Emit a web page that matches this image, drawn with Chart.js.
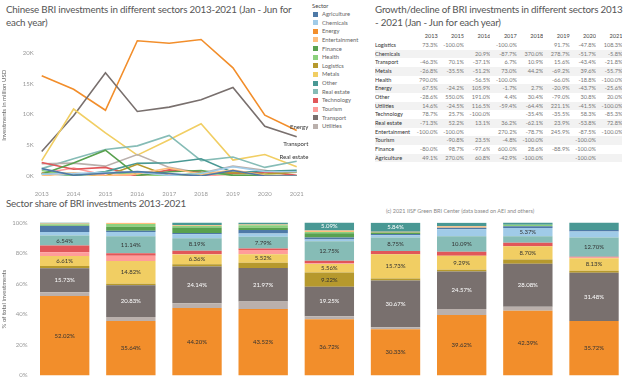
<!DOCTYPE html>
<html>
<head>
<meta charset="utf-8">
<script src="https://cdn.jsdelivr.net/npm/chart.js@4.4.1/dist/chart.umd.min.js"></script>
<style>
  body { margin: 0; background: #fff; font-family: Lato, sans-serif; }
  #page { position: relative; width: 628px; height: 387px; overflow: hidden; }
  .title { position: absolute; color: #555; font-size: 9.8px; letter-spacing: -0.2px; line-height: 12.5px; }
  #t1 { left: 6px; top: 3px; width: 292px; }
  #t2 { left: 375px; top: 3px; width: 252px; }
  #t3 { left: 6px; top: 197px; }
  #copy { position: absolute; left: 386px; top: 208px; font-size: 5.5px; color: #888; }
  #legend { position: absolute; left: 312px; top: 1px; font-size: 5.8px; color: #666; }
  #legend .head { color: #444; height: 9px; line-height: 9px; }
  #legend .item { height: 8.65px; line-height: 8.65px; white-space: nowrap; }
  #legend .sw { display: inline-block; width: 5px; height: 5px; margin: 0 4px 0 1px; vertical-align: -0.5px; }
  #growth { position: absolute; left: 375px; top: 32.4px; border-collapse: collapse; table-layout: fixed; font-size: 5.6px; }
  #growth td, #growth th { padding: 0; height: 8.67px; line-height: 8.67px; text-align: right; white-space: nowrap; overflow: hidden; }
  #growth th { color: #444; font-weight: normal; }
  #growth td { color: #777; }
  #growth td.lab { text-align: left; color: #333; }
  #growth tr.stripe td { background: #f2f2f2; }
  canvas { position: absolute; }
  #lineChart { left: 0; top: 22.6px; }
  #barChart { left: 0; top: 215px; }
</style>
</head>
<body>
<div id="page">
  <div class="title" id="t1">Chinese BRI investments in different sectors 2013-2021 (Jan - Jun for each year)</div>
  <div id="legend"></div>
  <div class="title" id="t2">Growth/decline of BRI investments in different sectors 2013 - 2021 (Jan - Jun for each year)</div>
  <table id="growth"></table>
  <div class="title" id="t3">Sector share of BRI investments 2013-2021</div>
  <div id="copy">(c) 2021 IISF Green BRI Center (data based on AEI and others)</div>
  <canvas id="lineChart" width="310" height="173" style="width:310px;height:173px"></canvas>
  <canvas id="barChart" width="628" height="172" style="width:628px;height:172px"></canvas>
</div>
<script>
// categories
const years = ['2013', '2014', '2015', '2016', '2017', '2018', '2019', '2020', '2021'];
const sectors = ['Agriculture', 'Chemicals', 'Energy', 'Entertainment', 'Finance', 'Health', 'Logistics',
  'Metals', 'Other', 'Real estate', 'Technology', 'Tourism', 'Transport', 'Utilities'];
const sectorColors = ['#4e79a7', '#a0cbe8', '#f28e2b', '#ffbe7d', '#59a14f', '#8cd17d', '#b6992d',
  '#f1ce63', '#499894', '#86bcb6', '#e15759', '#ff9d9a', '#79706e', '#bab0ac'];

// investments in million USD (Jan - Jun), 2013..2021
const invAgriculture = [1200, 120, 440, 710, 410, 0, 900, 0, 0];
const invChemicals = [300, 400, 560, 670, 80, 400, 1500, 720, 680];
const invEnergy = [16300, 14100, 10700, 22000, 21600, 22200, 17600, 9900, 7400];
const invEntertainment = [0, 500, 0, 350, 1300, 280, 960, 120, 0];
const invFinance = [300, 2100, 4200, 100, 700, 900, 100, 0, 0];
const invHealth = [900, 0, 600, 260, 0, 500, 170, 140, 0];
const invLogistics = [500, 400, 0, 1900, 0, 300, 580, 300, 630];
const invMetals = [2500, 10900, 7000, 3400, 5900, 8500, 2600, 3500, 1500];
const invOther = [400, 110, 710, 2060, 2150, 2800, 590, 770, 920];
const invRealEstate = [1200, 2800, 4300, 4900, 6600, 2500, 3100, 1400, 2400];
const invTechnology = [2200, 1100, 1400, 0, 1000, 650, 420, 660, 100];
const invTourism = [400, 1300, 120, 150, 140, 0, 300, 0, 0];
const invTransport = [4000, 9800, 16800, 10500, 11200, 12400, 14400, 8100, 6400];
const invUtilities = [2000, 2100, 1600, 3500, 1400, 500, 1600, 940, 0];
const lineTicks = [0, 5000, 10000, 15000, 20000];
const endLabelSectors = ['Energy', 'Transport', 'Real estate'];

// share of total (%), 2013..2021
const shareEnergy = [52.02, 35.64, 44.2, 43.52, 36.72, 30.33, 39.62, 42.39, 35.72];
const shareUtilities = [2.4, 2.6, 3.0, 4.8, 2.1, 1.2, 3.9, 2.6, 0];
const shareTransport = [15.73, 20.83, 24.14, 21.97, 19.25, 30.67, 24.57, 28.08, 31.48];
const shareLogistics = [1.4, 1.0, 1.4, 3.5, 9.22, 1.3, 1.0, 2.8, 1.3];
const shareMetals = [6.61, 14.82, 6.36, 5.52, 5.56, 15.73, 9.29, 8.7, 8.13];
const shareTourism = [2.4, 3.4, 0.3, 2.8, 0.6, 0, 0, 0, 0.5];
const shareTechnology = [4.4, 1.6, 2.2, 0.9, 1.6, 2.2, 2.6, 2.2, 0.5];
const shareRealEstate = [6.54, 11.14, 8.19, 7.79, 12.75, 8.75, 10.09, 4.3, 12.7];
const shareChemicals = [2.3, 2.8, 2.6, 2.0, 1.2, 1.6, 4.6, 5.37, 3.9];
const shareAgriculture = [4.0, 0.9, 0.8, 2.4, 1.3, 0.8, 1.0, 1.2, 1.0];
const shareFinance = [0.3, 2.6, 3.6, 1.5, 2.8, 0.9, 0, 0, 0];
const shareHealth = [0.8, 1.8, 1.0, 1.5, 0.8, 0, 0, 0.9, 0];
const shareEntertainment = [0.5, 0.8, 0.4, 0.6, 1.0, 0.6, 1.0, 0, 0];
const shareOther = [0.6, 0, 1.8, 1.2, 5.09, 5.84, 2.2, 1.5, 4.9];
const shareTicks = [0, 20, 40, 60, 80, 100];

// growth table
const growthYears = ['2013', '2015', '2016', '2017', '2018', '2019', '2020', '2021'];
const growthRows = ['Logistics', 'Chemicals', 'Transport', 'Metals', 'Health', 'Energy', 'Other',
  'Utilities', 'Technology', 'Real estate', 'Entertainment', 'Tourism', 'Finance', 'Agriculture'];
const growthValues = [
  ['73.3%', '-100.0%', '', '-100.0%', '', '91.7%', '-47.8%', '108.3%'],
  ['', '', '20.9%', '-87.7%', '370.0%', '278.7%', '-51.7%', '-5.8%'],
  ['-46.3%', '70.1%', '-37.1%', '6.7%', '10.9%', '15.6%', '-43.4%', '-21.8%'],
  ['-26.8%', '-35.5%', '-51.2%', '73.0%', '44.2%', '-69.2%', '39.6%', '-55.7%'],
  ['790.0%', '', '-56.5%', '-100.0%', '', '-66.0%', '-18.8%', '-100.0%'],
  ['67.5%', '-24.2%', '105.9%', '-1.7%', '2.7%', '-20.9%', '-43.7%', '-25.6%'],
  ['-28.6%', '550.0%', '191.0%', '4.4%', '30.4%', '-79.0%', '30.8%', '20.0%'],
  ['14.6%', '-24.5%', '116.5%', '-59.4%', '-64.4%', '221.1%', '-41.5%', '-100.0%'],
  ['78.7%', '25.7%', '-100.0%', '', '-35.4%', '-35.5%', '58.3%', '-85.3%'],
  ['-71.3%', '52.2%', '13.1%', '36.2%', '-62.1%', '23.9%', '-53.8%', '72.8%'],
  ['-100.0%', '-100.0%', '', '270.2%', '-78.7%', '245.9%', '-87.5%', '-100.0%'],
  ['', '-90.8%', '23.5%', '-4.8%', '-100.0%', '', '-100.0%', ''],
  ['-80.0%', '98.7%', '-97.6%', '600.0%', '28.6%', '-88.9%', '-100.0%', ''],
  ['49.1%', '270.0%', '60.8%', '-42.9%', '-100.0%', '', '-100.0%', '']
];

const FONT = 'Lato, sans-serif';

function colorOf(name) {
  return sectorColors[sectors.indexOf(name)];
}

function renderLegend() {
  const items = sectors.map((s, i) =>
    `<div class="item"><span class="sw" style="background:${sectorColors[i]}"></span>${s}</div>`
  ).join('');
  document.getElementById('legend').innerHTML = `<div class="head">Sector</div>${items}`;
}

function renderTable() {
  const cols = `<col style="width:36.3px">` + growthYears.map(() => '<col style="width:26.4px">').join('');
  const head = `<tr><th></th>${growthYears.map(y => `<th>${y}</th>`).join('')}</tr>`;
  const rows = growthRows.map((name, i) => {
    const cells = growthValues[i].map(v => `<td>${v}</td>`).join('');
    return `<tr class="${i % 2 ? 'stripe' : ''}"><td class="lab">${name}</td>${cells}</tr>`;
  }).join('');
  document.getElementById('growth').innerHTML = `<colgroup>${cols}</colgroup>${head}${rows}`;
}

// labels next to the last point of a few lines
const endLabels = {
  id: 'endLabels',
  afterDatasetsDraw(chart) {
    const ctx = chart.ctx;
    const offsets = { 'Energy': -3, 'Transport': 7.5, 'Real estate': -4.5 };
    ctx.save();
    ctx.font = `6px ${FONT}`;
    ctx.fillStyle = '#333';
    ctx.textAlign = 'right';
    ctx.textBaseline = 'middle';
    chart.data.datasets.forEach((ds, i) => {
      if (!endLabelSectors.includes(ds.label)) return;
      const pts = chart.getDatasetMeta(i).data;
      const last = pts[pts.length - 1];
      ctx.fillText(ds.label, last.x + 11.6, last.y + offsets[ds.label]);
    });
    ctx.restore();
  }
};

// percentage text inside the bigger segments
const segmentLabels = {
  id: 'segmentLabels',
  afterDatasetsDraw(chart) {
    const ctx = chart.ctx;
    ctx.save();
    ctx.font = `6px ${FONT}`;
    ctx.textAlign = 'center';
    ctx.textBaseline = 'middle';
    chart.data.datasets.forEach((ds, i) => {
      const meta = chart.getDatasetMeta(i);
      meta.data.forEach((bar, j) => {
        const v = ds.data[j];
        if (v < 5) return;
        ctx.fillStyle = (ds.label === 'Transport' || ds.label === 'Other') ? '#fff' : '#333';
        ctx.fillText(v.toFixed(2) + '%', bar.x, (bar.y + bar.base) / 2);
      });
    });
    ctx.restore();
  }
};

function buildLineChart() {
  const series = [
    ['Agriculture', invAgriculture], ['Chemicals', invChemicals], ['Entertainment', invEntertainment],
    ['Finance', invFinance], ['Health', invHealth], ['Logistics', invLogistics], ['Other', invOther],
    ['Technology', invTechnology], ['Tourism', invTourism], ['Utilities', invUtilities],
    ['Real estate', invRealEstate], ['Metals', invMetals], ['Transport', invTransport], ['Energy', invEnergy]
  ];
  new Chart(document.getElementById('lineChart'), {
    type: 'line',
    data: {
      labels: years,
      datasets: series.map(([name, data]) => ({
        label: name,
        data,
        borderColor: colorOf(name),
        backgroundColor: colorOf(name),
        borderWidth: 1.6,
        pointRadius: 0,
        tension: 0,
        fill: false
      }))
    },
    options: {
      responsive: false,
      animation: false,
      layout: { padding: { top: 4.2, right: 13.3, left: 0, bottom: 0 } },
      plugins: { legend: { display: false }, tooltip: { enabled: false } },
      scales: {
        x: {
          offset: false,
          grid: { display: false },
          border: { display: false },
          ticks: { color: '#999', font: { family: FONT, size: 6 }, padding: 6, maxRotation: 0 },
          afterFit: s => { s.height = 20; }
        },
        y: {
          min: 0,
          max: 23000,
          grid: { display: false, drawTicks: false },
          border: { display: false },
          afterBuildTicks: s => { s.ticks = lineTicks.map(v => ({ value: v })); },
          ticks: {
            color: '#999', font: { family: FONT, size: 6 }, padding: 8,
            callback: v => (v / 1000) + 'K'
          },
          title: { display: true, text: 'Investments in million USD', color: '#666',
            font: { family: FONT, size: 6 }, padding: { top: 0, bottom: 0 } },
          afterFit: s => { s.width = 41.7; }
        }
      }
    },
    plugins: [endLabels]
  });
}

function buildBarChart() {
  const stack = [
    ['Energy', shareEnergy], ['Utilities', shareUtilities], ['Transport', shareTransport],
    ['Logistics', shareLogistics], ['Metals', shareMetals], ['Tourism', shareTourism],
    ['Technology', shareTechnology], ['Real estate', shareRealEstate], ['Chemicals', shareChemicals],
    ['Agriculture', shareAgriculture], ['Finance', shareFinance], ['Health', shareHealth],
    ['Entertainment', shareEntertainment], ['Other', shareOther]
  ];
  new Chart(document.getElementById('barChart'), {
    type: 'bar',
    data: {
      labels: years,
      datasets: stack.map(([name, data]) => ({
        label: name,
        data,
        backgroundColor: colorOf(name),
        borderWidth: 0,
        barPercentage: 0.746,
        categoryPercentage: 1
      }))
    },
    options: {
      responsive: false,
      animation: false,
      layout: { padding: { top: 7, right: 0.9, left: 0, bottom: 0 } },
      plugins: { legend: { display: false }, tooltip: { enabled: false } },
      scales: {
        x: {
          stacked: true,
          grid: { display: false },
          border: { display: false },
          ticks: { color: '#888', font: { family: FONT, size: 6 }, padding: 2 },
          afterFit: s => { s.height = 11.5; }
        },
        y: {
          stacked: true,
          min: 0,
          max: 100,
          grid: { display: false, drawTicks: false },
          border: { display: false },
          afterBuildTicks: s => { s.ticks = shareTicks.map(v => ({ value: v })); },
          ticks: { color: '#999', font: { family: FONT, size: 6 }, padding: 4, callback: v => v + '%' },
          title: { display: true, text: '% of total investments', color: '#666',
            font: { family: FONT, size: 6 }, padding: { top: 0, bottom: 0 } },
          afterFit: s => { s.width = 31.6; }
        }
      }
    },
    plugins: [segmentLabels]
  });
}

renderLegend();
renderTable();
buildLineChart();
buildBarChart();
</script>
</body>
</html>
